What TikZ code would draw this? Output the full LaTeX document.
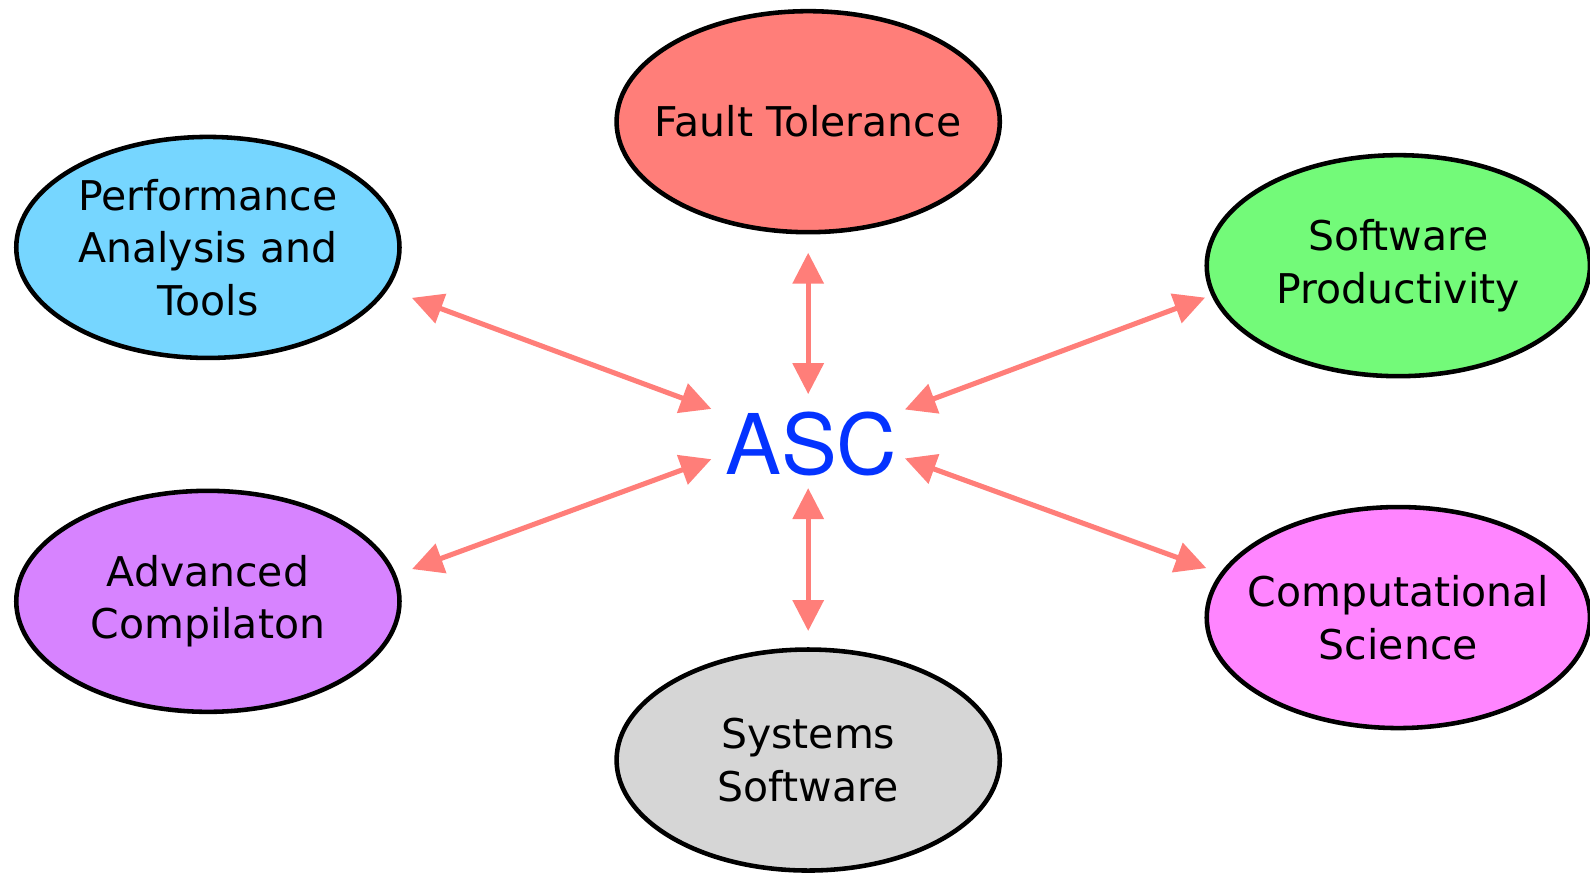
\documentclass[tikz,border=0pt]{standalone}
\usepackage{fontspec}
\setmainfont{DejaVu Sans}
\newfontfamily\ascfont{TeX Gyre Heros}
\usepackage{tikz}
\usetikzlibrary{shapes,arrows.meta,positioning}

\definecolor{ftred}{HTML}{FF7E79}
\definecolor{pablue}{HTML}{76D6FF}
\definecolor{spgreen}{HTML}{73FA79}
\definecolor{acpurple}{HTML}{D783FF}
\definecolor{csmagenta}{HTML}{FF85FF}
\definecolor{ssgray}{HTML}{D6D6D6}
\definecolor{ascblue}{HTML}{0433FF}

\begin{document}
\begin{tikzpicture}[x=0.02cm, y=-0.02cm]
			\tikzstyle{Topic} 	= [ellipse, draw, line width=0.09cm, minimum width=7.56cm, minimum height=4.36cm, inner xsep=-0.6cm, inner ysep=-0.3cm, align=center, font=\fontsize{23}{29.5}\selectfont]
			\tikzstyle{Center}	= [rectangle, minimum width=3.4cm, minimum height=1.4cm, inner sep=0pt, text=ascblue, font=\ascfont\fontsize{47}{47}\selectfont]
			\tikzstyle{Link}	= [line width=0.1cm, ftred, >={Triangle[length=0.61cm, width=0.6cm]}]
			
			\useasboundingbox (0,0) rectangle (1568,863);
			
			\node (asc)  at (800, 437.5) [Center] {ASC};
			\node (ft)   at (797, 120)   [Topic, fill=ftred] {Fault Tolerance};
			\node (perf) at (205, 244)   [Topic, fill=pablue] {Performance\\Analysis and\\Tools};
			\node (sp)   at (1379, 262)  [Topic, fill=spgreen] {Software\\Productivity};
			\node (ac)   at (205, 593)   [Topic, fill=acpurple] {Advanced\\Compilaton};
			\node (cs)   at (1379, 609)  [Topic, fill=csmagenta] {Computational\\Science};
			\node (ss)   at (797, 749.5) [Topic, fill=ssgray] {Systems\\Software};
			
			\draw [<->] (ft.south) to (ft.south |- asc.north) [Link, shorten <=0.36cm, shorten >=0.27cm];
			\draw [<->] (ss.north) to (ss.north |- asc.south) [Link, shorten <=0.32cm, shorten >=0.17cm];
			\draw [<->] (perf.-13.6) to (asc.161.3) [Link, shorten <=0.5cm, shorten >=0.28cm];
			\draw [<->] (ac.8.35) to (asc.187.2) [Link, shorten <=0.33cm, shorten >=0.28cm];
			\draw [<->] (sp.189.6) to (asc.20) [Link, shorten <=0.13cm, shorten >=0.15cm];
			\draw [<->] (cs.166) to (asc.-8.7) [Link, shorten <=0.29cm, shorten >=0.15cm];
		\end{tikzpicture}
\end{document}
